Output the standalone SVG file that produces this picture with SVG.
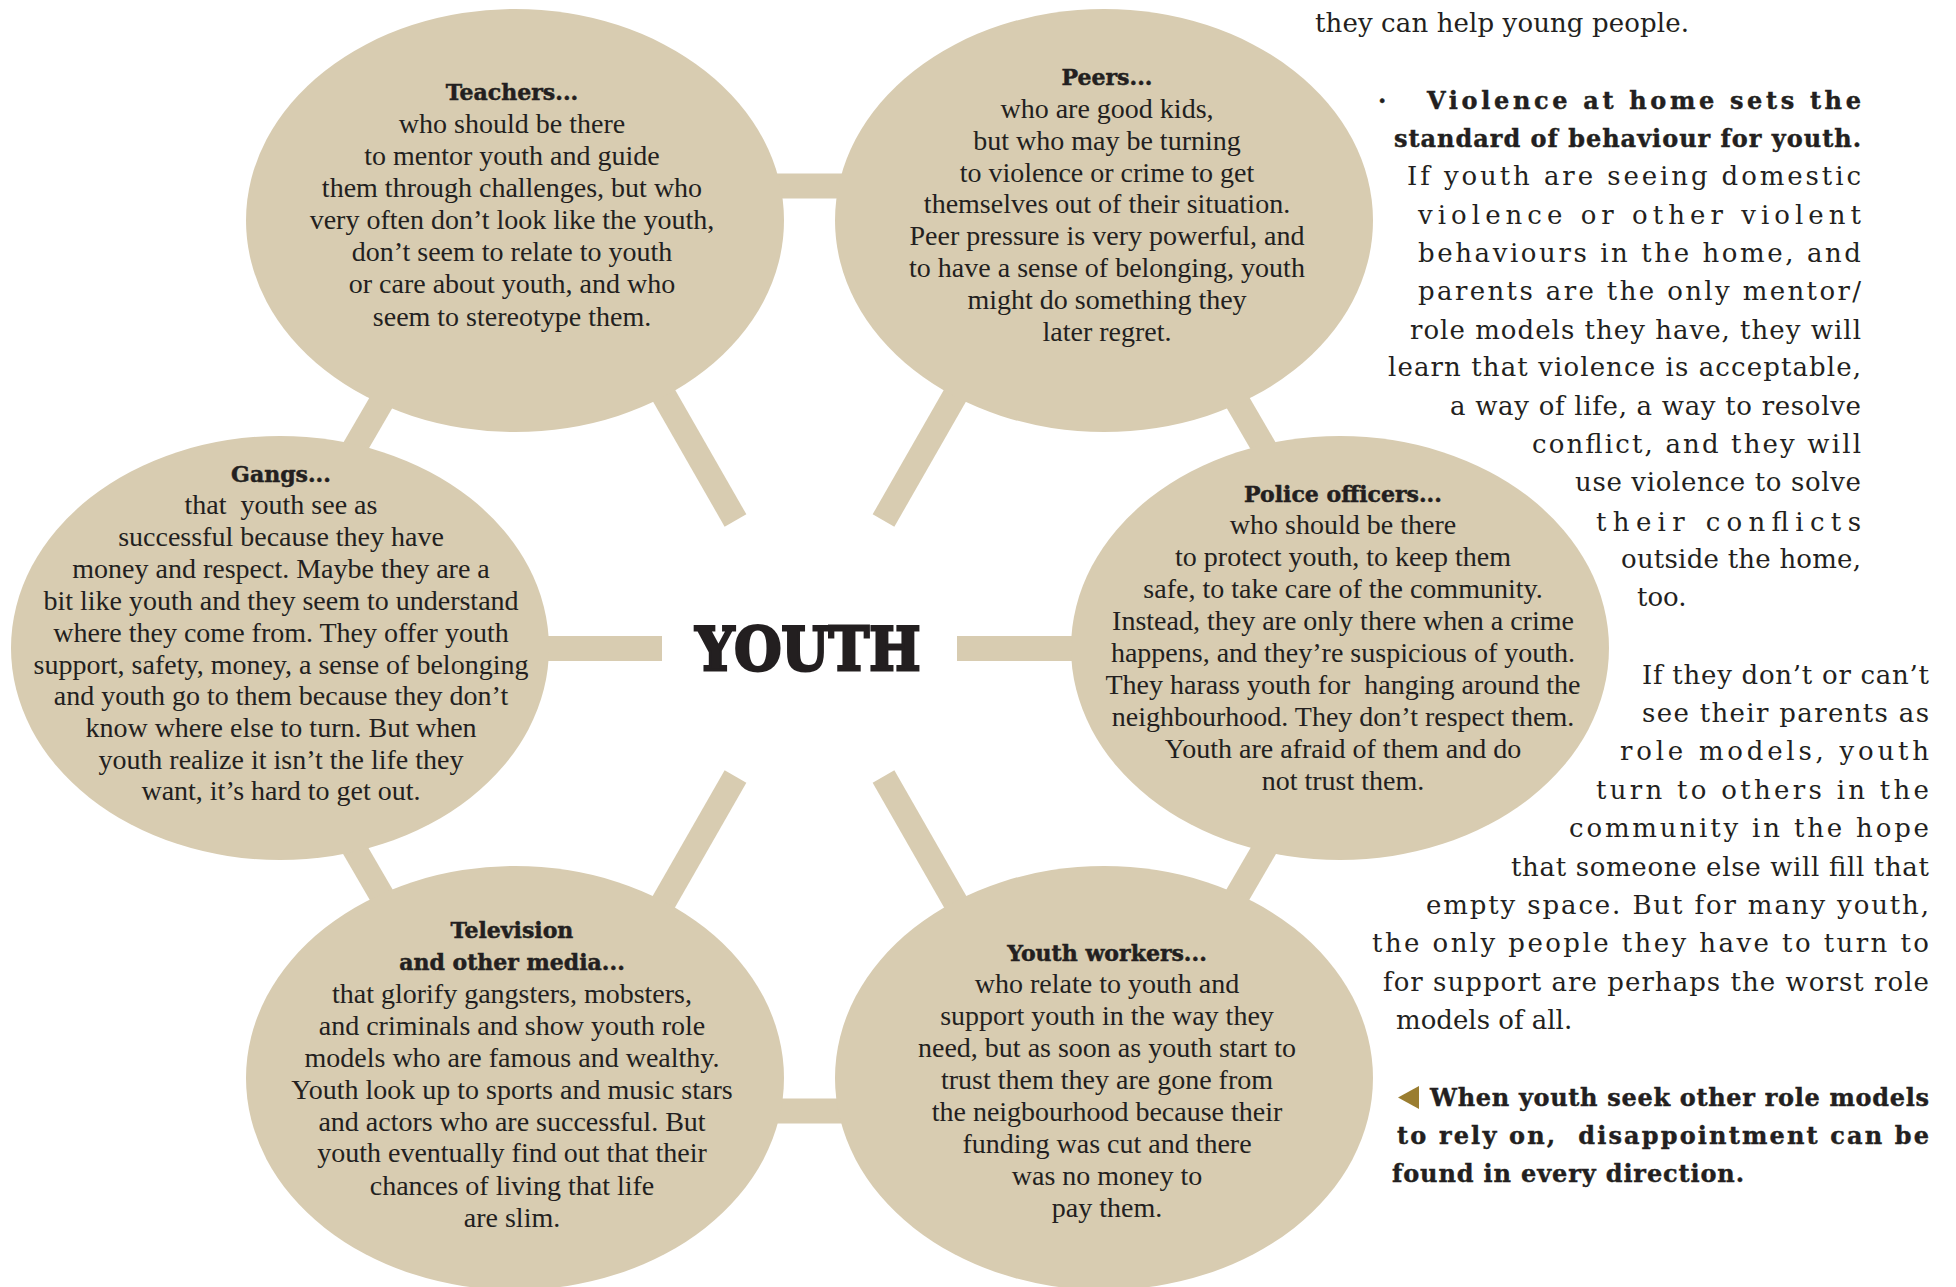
<svg xmlns="http://www.w3.org/2000/svg" width="1956" height="1287" viewBox="0 0 1956 1287">
<style>
.bub{fill:#d8ccb1}
.con{stroke:#d8ccb1;stroke-width:25;stroke-linecap:butt;fill:none}
.t{font-family:"Liberation Serif","Times New Roman",serif;font-size:28px;fill:#231f20;text-anchor:middle;white-space:pre}
.h{font-family:"DejaVu Serif",serif;font-weight:bold;font-size:22px;fill:#231f20;stroke:#231f20;stroke-width:0.5;text-anchor:middle}
.r{font-family:"DejaVu Serif",serif;font-size:26px;fill:#231f20;white-space:pre}
.rb{font-family:"DejaVu Serif",serif;font-weight:bold;font-size:24px;fill:#231f20;stroke:#231f20;stroke-width:0.4;white-space:pre}
.youth{font-family:"DejaVu Serif",serif;font-weight:bold;font-size:60px;fill:#231f20;stroke:#231f20;stroke-width:3;stroke-linejoin:miter;text-anchor:middle}
</style>
<rect width="1956" height="1287" fill="#ffffff"/>
<g id="connectors">
<line class="con" x1="700" y1="186" x2="920" y2="186"/>
<line class="con" x1="700" y1="1111" x2="920" y2="1111"/>
<line class="con" x1="418" y1="339" x2="318" y2="511"/>
<line class="con" x1="318" y1="786" x2="418" y2="958"/>
<line class="con" x1="1201" y1="339" x2="1301" y2="511"/>
<line class="con" x1="1301" y1="786" x2="1201" y2="958"/>
<line class="con" x1="611" y1="303" x2="735.5" y2="520.5"/>
<line class="con" x1="1008" y1="303" x2="883.5" y2="520.5"/>
<line class="con" x1="450" y1="648.5" x2="662" y2="648.5"/>
<line class="con" x1="957" y1="648.5" x2="1170" y2="648.5"/>
<line class="con" x1="611" y1="994" x2="735.5" y2="776.5"/>
<line class="con" x1="1008" y1="994" x2="883.5" y2="776.5"/>
</g>
<g id="youth">
<text class="youth" x="808" y="670" textLength="225" lengthAdjust="spacingAndGlyphs">YOUTH</text>
</g>
<g id="teachers">
<ellipse class="bub" cx="515" cy="220.5" rx="269" ry="211.5"/>
<text class="h" x="512" y="100">Teachers...</text>
<text class="t" x="512" y="133">who should be there</text>
<text class="t" x="512" y="165">to mentor youth and guide</text>
<text class="t" x="512" y="197">them through challenges, but who</text>
<text class="t" x="512" y="229">very often don’t look like the youth,</text>
<text class="t" x="512" y="261">don’t seem to relate to youth</text>
<text class="t" x="512" y="293">or care about youth, and who</text>
<text class="t" x="512" y="326">seem to stereotype them.</text>
</g>
<g id="peers">
<ellipse class="bub" cx="1104" cy="220.5" rx="269" ry="211.5"/>
<text class="h" x="1107" y="85">Peers...</text>
<text class="t" x="1107" y="118">who are good kids,</text>
<text class="t" x="1107" y="150">but who may be turning</text>
<text class="t" x="1107" y="182">to violence or crime to get</text>
<text class="t" x="1107" y="213">themselves out of their situation.</text>
<text class="t" x="1107" y="245">Peer pressure is very powerful, and</text>
<text class="t" x="1107" y="277">to have a sense of belonging, youth</text>
<text class="t" x="1107" y="309">might do something they</text>
<text class="t" x="1107" y="341">later regret.</text>
</g>
<g id="gangs">
<ellipse class="bub" cx="280" cy="648" rx="269" ry="212"/>
<text class="h" x="281" y="482">Gangs...</text>
<text class="t" x="281" y="514">that  youth see as</text>
<text class="t" x="281" y="546">successful because they have</text>
<text class="t" x="281" y="578">money and respect. Maybe they are a</text>
<text class="t" x="281" y="610">bit like youth and they seem to understand</text>
<text class="t" x="281" y="642">where they come from. They offer youth</text>
<text class="t" x="281" y="674">support, safety, money, a sense of belonging</text>
<text class="t" x="281" y="705">and youth go to them because they don’t</text>
<text class="t" x="281" y="737">know where else to turn. But when</text>
<text class="t" x="281" y="769">youth realize it isn’t the life they</text>
<text class="t" x="281" y="800">want, it’s hard to get out.</text>
</g>
<g id="police">
<ellipse class="bub" cx="1340" cy="648" rx="269" ry="212"/>
<text class="h" x="1343" y="502">Police officers...</text>
<text class="t" x="1343" y="534">who should be there</text>
<text class="t" x="1343" y="566">to protect youth, to keep them</text>
<text class="t" x="1343" y="598">safe, to take care of the community.</text>
<text class="t" x="1343" y="630">Instead, they are only there when a crime</text>
<text class="t" x="1343" y="662">happens, and they’re suspicious of youth.</text>
<text class="t" x="1343" y="694">They harass youth for  hanging around the</text>
<text class="t" x="1343" y="726">neighbourhood. They don’t respect them.</text>
<text class="t" x="1343" y="758">Youth are afraid of them and do</text>
<text class="t" x="1343" y="790">not trust them.</text>
</g>
<g id="television">
<ellipse class="bub" cx="515" cy="1078" rx="269" ry="212"/>
<text class="h" x="512" y="938">Television</text>
<text class="h" x="512" y="970">and other media...</text>
<text class="t" x="512" y="1003">that glorify gangsters, mobsters,</text>
<text class="t" x="512" y="1035">and criminals and show youth role</text>
<text class="t" x="512" y="1067">models who are famous and wealthy.</text>
<text class="t" x="512" y="1099">Youth look up to sports and music stars</text>
<text class="t" x="512" y="1131">and actors who are successful. But</text>
<text class="t" x="512" y="1162">youth eventually find out that their</text>
<text class="t" x="512" y="1195">chances of living that life</text>
<text class="t" x="512" y="1227">are slim.</text>
</g>
<g id="youth-workers">
<ellipse class="bub" cx="1104" cy="1078" rx="269" ry="212"/>
<text class="h" x="1107" y="961">Youth workers...</text>
<text class="t" x="1107" y="993">who relate to youth and</text>
<text class="t" x="1107" y="1025">support youth in the way they</text>
<text class="t" x="1107" y="1057">need, but as soon as youth start to</text>
<text class="t" x="1107" y="1089">trust them they are gone from</text>
<text class="t" x="1107" y="1121">the neigbourhood because their</text>
<text class="t" x="1107" y="1153">funding was cut and there</text>
<text class="t" x="1107" y="1185">was no money to</text>
<text class="t" x="1107" y="1217">pay them.</text>
</g>
<g id="side-text">
<text class="r" x="1315" y="32" textLength="374">they can help young people.</text>
<text class="rb" x="1378" y="109">·</text>
<text class="rb" x="1427" y="109" textLength="434">Violence at home sets the</text>
<text class="rb" x="1394" y="147" textLength="467">standard of behaviour for youth.</text>
<text class="r" x="1407" y="185" textLength="454">If youth are seeing domestic</text>
<text class="r" x="1418" y="224" textLength="443">violence or other violent</text>
<text class="r" x="1418" y="262" textLength="443">behaviours in the home, and</text>
<text class="r" x="1418" y="300" textLength="443">parents are the only mentor/</text>
<text class="r" x="1410" y="339" textLength="451">role models they have, they will</text>
<text class="r" x="1388" y="376" textLength="473">learn that violence is acceptable,</text>
<text class="r" x="1450" y="415" textLength="411">a way of life, a way to resolve</text>
<text class="r" x="1532" y="453" textLength="329">conflict, and they will</text>
<text class="r" x="1575" y="491" textLength="286">use violence to solve</text>
<text class="r" x="1596" y="531" textLength="265">their conflicts</text>
<text class="r" x="1621" y="568" textLength="240">outside the home,</text>
<text class="r" x="1637" y="606">too.</text>
<text class="r" x="1642" y="684" textLength="287">If they don’t or can’t</text>
<text class="r" x="1642" y="722" textLength="287">see their parents as</text>
<text class="r" x="1620" y="760" textLength="309">role models, youth</text>
<text class="r" x="1596" y="799" textLength="333">turn to others in the</text>
<text class="r" x="1569" y="837" textLength="360">community in the hope</text>
<text class="r" x="1511" y="876" textLength="418">that someone else will fill that</text>
<text class="r" x="1426" y="914" textLength="503">empty space. But for many youth,</text>
<text class="r" x="1372" y="952" textLength="557">the only people they have to turn to</text>
<text class="r" x="1383" y="991" textLength="546">for support are perhaps the worst role</text>
<text class="r" x="1396" y="1029">models of all.</text>
<polygon points="1419,1086 1419,1109 1398,1097.5" fill="#9a7d30"/>
<text class="rb" x="1430" y="1106" textLength="499">When youth seek other role models</text>
<text class="rb" x="1397" y="1144" textLength="532">to rely on,  disappointment can be</text>
<text class="rb" x="1392" y="1182" textLength="352">found in every direction.</text>
</g>
</svg>
